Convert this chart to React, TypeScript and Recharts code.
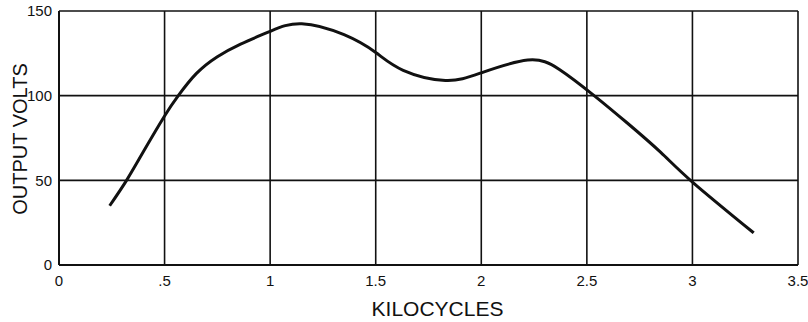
import React from "react";
import { LineChart, Line, XAxis, YAxis, CartesianGrid } from "recharts";

// kilocycles vs output volts
const kc: number[] = [0.24, 0.32, 0.4, 0.5, 0.565, 0.65, 0.75, 0.86, 1.0, 1.15, 1.35, 1.5, 1.63, 1.83, 2.0, 2.22, 2.37, 2.53, 2.69, 2.85, 3.0, 3.29];
const volts: number[] = [35, 50, 67, 88, 100, 113, 123, 130.5, 138, 142.5, 136, 125.5, 115, 109, 113.5, 121, 115.5, 100.5, 84, 66.5, 49, 19];

const xTicks: number[] = [0, 0.5, 1, 1.5, 2, 2.5, 3, 3.5];
const yTicks: number[] = [0, 50, 100, 150];

const data = kc.map((k, i) => ({ kc: k, v: volts[i] }));

const ink = "#111";
const font = "'Liberation Sans', Arial, sans-serif";

const fmtX = (v: number) => (v === 0.5 ? ".5" : String(v));

const App: React.FC = () => (
  <div style={{ position: "absolute", left: 0, top: 0, background: "#fff" }}>
    <LineChart
      width={808}
      height={322}
      data={data}
      margin={{ top: 11, right: 10, left: 0, bottom: 7 }}
      style={{ fontFamily: font }}
    >
      <CartesianGrid stroke={ink} strokeWidth={1.6} horizontalValues={yTicks} verticalValues={xTicks} />
      <XAxis
        dataKey="kc"
        type="number"
        domain={[0, 3.5]}
        ticks={xTicks}
        tickFormatter={fmtX}
        axisLine={{ stroke: ink, strokeWidth: 2 }}
        tickLine={false}
        tickSize={0}
        tickMargin={10}
        height={50}
        tick={{ fill: ink, fontSize: 15 }}
        label={{
          content: ({ viewBox }: any) => (
            <text
              x={viewBox.x + viewBox.width / 2 + 9}
              y={viewBox.y + 51}
              textAnchor="middle"
              fill={ink}
              fontSize={21}
              fontFamily={font}
            >
              KILOCYCLES
            </text>
          ),
        }}
      />
      <YAxis
        type="number"
        domain={[0, 150]}
        ticks={yTicks}
        axisLine={{ stroke: ink, strokeWidth: 2 }}
        tickLine={false}
        tickSize={0}
        tickMargin={7}
        width={59}
        tick={{ fill: ink, fontSize: 15 }}
        label={{
          content: ({ viewBox }: any) => {
            const cx = viewBox.x + 20;
            const cy = viewBox.y + viewBox.height / 2 + 1;
            return (
              <text
                x={cx}
                y={cy}
                transform={`rotate(-90 ${cx} ${cy})`}
                textAnchor="middle"
                dominantBaseline="central"
                fill={ink}
                fontSize={20}
                fontFamily={font}
              >
                OUTPUT VOLTS
              </text>
            );
          },
        }}
      />
      <Line
        type="natural"
        dataKey="v"
        stroke={ink}
        strokeWidth={3}
        dot={false}
        isAnimationActive={false}
      />
    </LineChart>
  </div>
);

export default App;
